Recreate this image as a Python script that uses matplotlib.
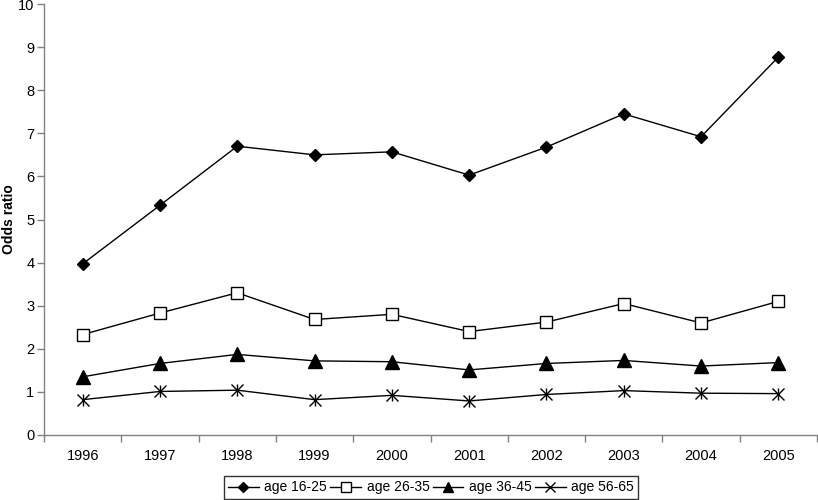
import matplotlib
matplotlib.use("Agg")
import matplotlib.pyplot as plt
import numpy as np

plt.rcParams['font.family'] = ['Liberation Sans', 'DejaVu Sans']

years = ["1996", "1997", "1998", "1999", "2000", "2001", "2002", "2003", "2004", "2005"]
age_16_25 = [3.97, 5.33, 6.70, 6.50, 6.57, 6.03, 6.68, 7.45, 6.92, 8.77]
age_26_35 = [2.33, 2.83, 3.30, 2.68, 2.80, 2.40, 2.62, 3.05, 2.60, 3.10]
age_36_45 = [1.35, 1.66, 1.87, 1.72, 1.70, 1.51, 1.66, 1.73, 1.60, 1.68]
age_56_65 = [0.82, 1.01, 1.04, 0.82, 0.92, 0.79, 0.94, 1.03, 0.97, 0.96]

fig = plt.figure(figsize=(8.18, 5.0), dpi=100)
ax = fig.add_axes([0.0538, 0.13, 0.945, 0.862])

x = np.arange(len(years))
ax.plot(x, age_16_25, color='black', lw=1.0, marker='D', ms=6.5, mfc='black', mec='black', label='age 16-25')
ax.plot(x, age_26_35, color='black', lw=1.0, marker='s', ms=8.7, mfc='white', mec='black', mew=1.0, label='age 26-35')
ax.plot(x, age_36_45, color='black', lw=1.0, marker='^', ms=10, mfc='black', mec='black', label='age 36-45')
ax.plot(x, age_56_65, color='black', lw=1.0, marker='x', ms=9, mew=1.0, mec='black', label='age 56-65')
ax.plot(x, age_56_65, color='none', lw=0, marker='|', ms=9, mew=1.0, mec='black')

ax.set_xlim(-0.5, len(years) - 0.5)
ax.set_ylim(0, 10)
ax.set_yticks(range(0, 11))
ax.set_xticks(x)
ax.set_xticklabels(years)
ax.set_xticks(np.arange(-0.5, len(years), 1.0), minor=True)
ax.tick_params(axis='x', which='major', length=0, pad=10, labelsize=10.5)
ax.tick_params(axis='x', which='minor', length=5, width=1, color='#808080', direction='out')
ax.tick_params(axis='y', length=5, width=1, color='#808080', direction='out', labelsize=10.5, pad=2)

for s in ['top', 'right']:
    ax.spines[s].set_visible(False)
for s in ['left', 'bottom']:
    ax.spines[s].set_color('#808080')
    ax.spines[s].set_linewidth(1)

ax.set_ylabel('Odds ratio', fontweight='bold', fontsize=10)
ax.yaxis.set_label_coords(-0.036, 0.5)

handles, labels = ax.get_legend_handles_labels()
leg = fig.legend(handles, labels, loc='center', bbox_to_anchor=(0.527, 0.025), ncol=4,
                 frameon=True, fancybox=False, edgecolor='black', fontsize=10,
                 handlelength=2.2, handletextpad=0.4, columnspacing=0.25,
                 borderpad=0.3, borderaxespad=0, markerscale=0.75)
leg.get_frame().set_linewidth(1.0)

fig.savefig('out.png', dpi=100)
